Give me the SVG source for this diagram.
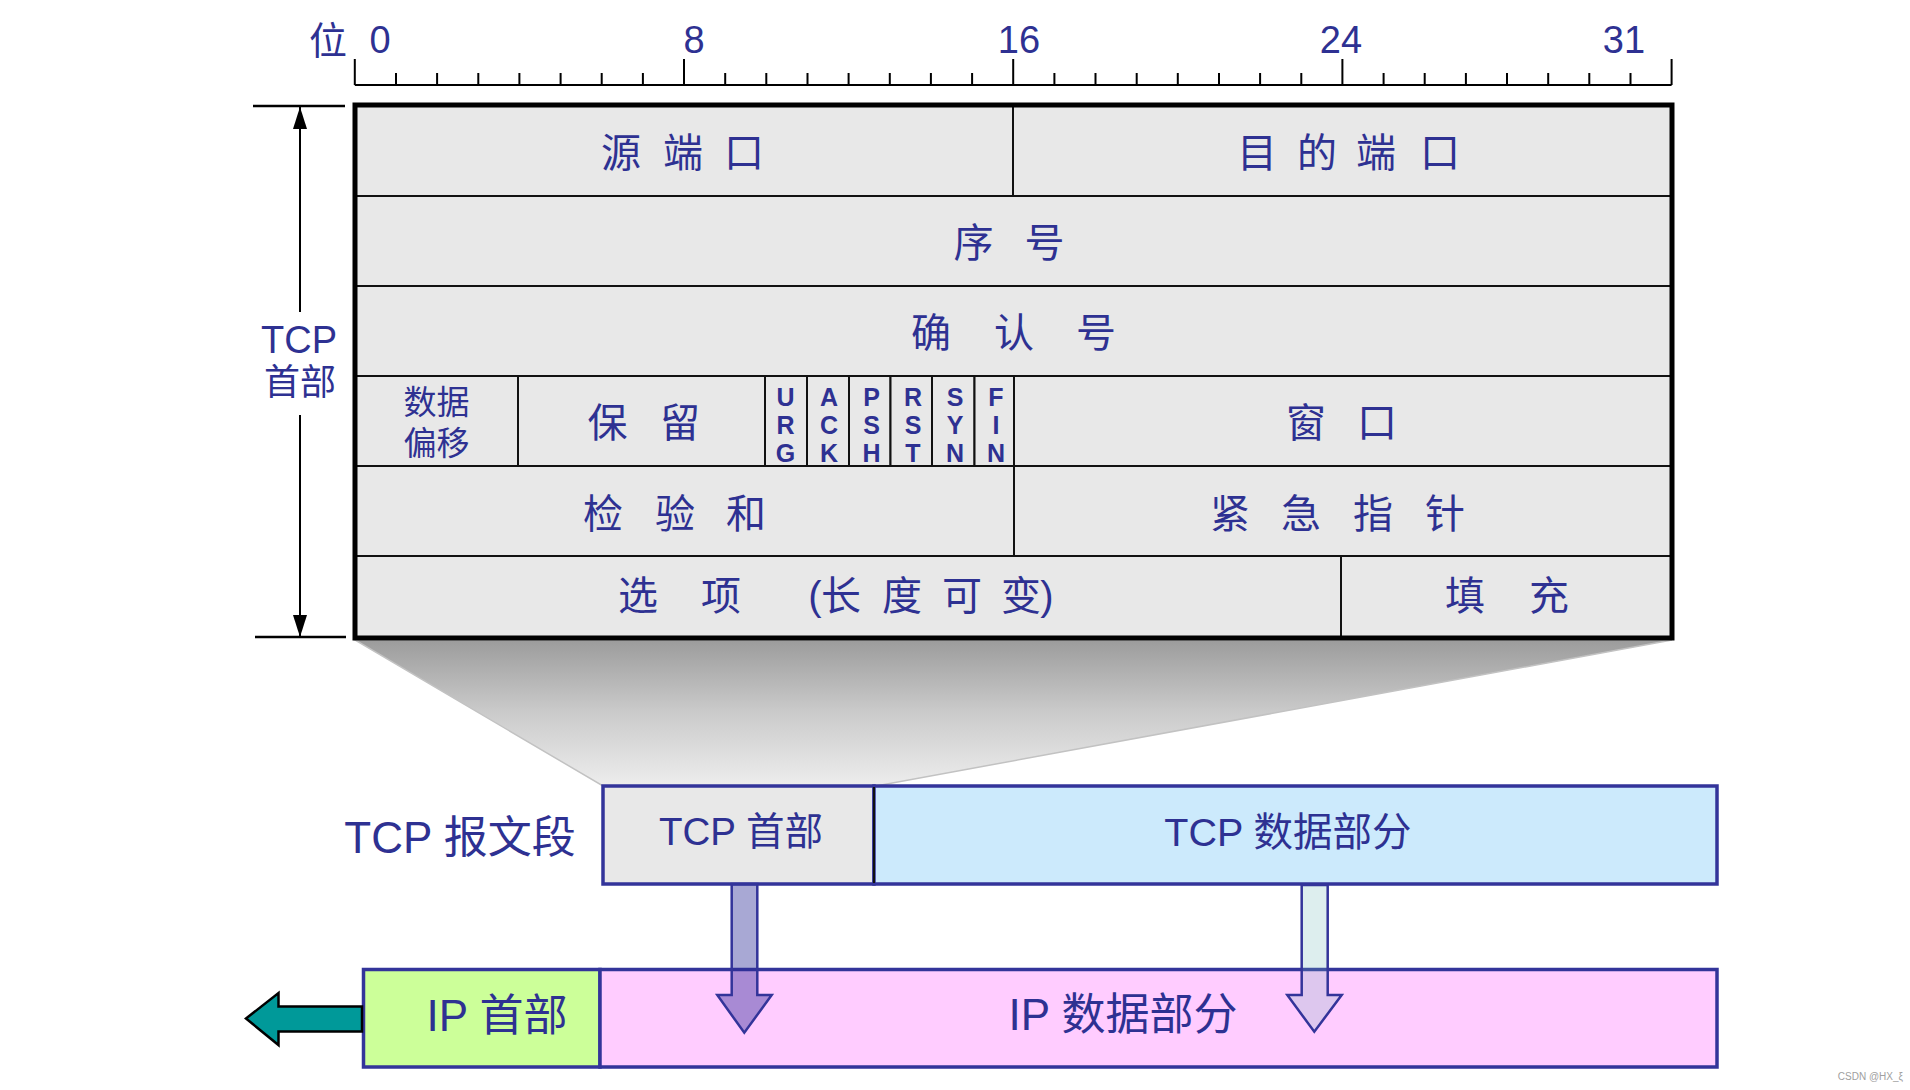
<svg xmlns="http://www.w3.org/2000/svg" width="1910" height="1090" viewBox="0 0 1910 1090">
<style>
.t{font-family:"Liberation Sans","Noto Sans CJK SC",sans-serif;fill:#2E3192;text-anchor:middle}
.f40{font-size:40px}
.flag{font-family:"Liberation Sans",sans-serif;font-weight:bold;font-size:25px;fill:#2E3192;text-anchor:middle}
.cell{fill:#E8E8E8;stroke:#111;stroke-width:2}
.box{stroke:#33349A;stroke-width:3.5}
.tick{stroke:#000;stroke-width:2;fill:none}
</style>
<defs>
<marker id="dimArrow" markerUnits="userSpaceOnUse" markerWidth="22" markerHeight="14" refX="22" refY="7" orient="auto">
<path d="M0,0 L22,7 L0,14 z" fill="#000"/>
</marker>
<linearGradient id="shade" x1="0" y1="0" x2="0" y2="1">
<stop offset="0" stop-color="#9C9C9C"/>
<stop offset="0.5" stop-color="#CBCBCB"/>
<stop offset="1" stop-color="#EDEDED"/>
</linearGradient>
</defs>
<rect width="1910" height="1090" fill="#fff"/>

<g id="ruler">
<text class="t" x="328" y="54" font-size="38">位</text>
<text class="t" font-size="38" x="380" y="53">0</text>
<text class="t" font-size="38" x="694" y="53">8</text>
<text class="t" font-size="38" x="1019" y="53">16</text>
<text class="t" font-size="38" x="1341" y="53">24</text>
<text class="t" font-size="38" x="1624" y="53">31</text>
<path class="tick" stroke-width="2.5" d="M354.8,85H1671.6"/>
<path class="tick" d="M354.8,59V85M684,59V85M1013.2,59V85M1342.4,59V85M1671.6,59V85"/>
<path class="tick" d="M396,73V85M437.1,73V85M478.3,73V85M519.4,73V85M560.6,73V85M601.7,73V85M642.9,73V85M725.2,73V85M766.3,73V85M807.5,73V85M848.6,73V85M889.8,73V85M930.9,73V85M972.1,73V85M1054.4,73V85M1095.5,73V85M1136.7,73V85M1177.8,73V85M1219,73V85M1260.1,73V85M1301.3,73V85M1383.6,73V85M1424.7,73V85M1465.9,73V85M1507,73V85M1548.2,73V85M1589.3,73V85M1630.5,73V85"/>
</g>

<g id="zoom-shadow">
<polygon points="355,640 1672,640 876,786 603,786" fill="url(#shade)" stroke="#C2C2C2" stroke-width="1.5"/>
</g>

<g id="header-length">
<path d="M253,106H345M255,637H346" stroke="#000" stroke-width="2.5"/>
<text class="t" font-size="38" x="299" y="353">TCP</text>
<text class="t" font-size="36" x="300" y="395">首部</text>
</g>

<g id="tcp-header">
<g id="src-port"><rect class="cell" x="355" y="105" width="658" height="91"/><text class="t f40" x="621 683 744" y="167">源端口</text></g>
<g id="dst-port"><rect class="cell" x="1013" y="105" width="659" height="91"/><text class="t f40" x="1257 1317 1376 1440" y="167">目的端口</text></g>
<g id="seq"><rect class="cell" x="355" y="196" width="1317" height="90"/><text class="t f40" x="973.5 1044.5" y="257">序号</text></g>
<g id="ack-num"><rect class="cell" x="355" y="286" width="1317" height="90"/><text class="t f40" x="931 1014 1096" y="347">确认号</text></g>
<g id="data-offset"><rect class="cell" x="355" y="376" width="163" height="90"/><text class="t" font-size="33" x="436.5" y="414">数据<tspan x="436.5" dy="41">偏移</tspan></text></g>
<g id="reserved"><rect class="cell" x="518" y="376" width="247" height="90"/><text class="t f40" x="607.5 680" y="437">保留</text></g>
<g id="urg"><rect class="cell" x="765" y="376" width="42" height="90"/><text class="flag" x="785.5" y="406">U<tspan x="785.5" dy="28">R</tspan><tspan x="785.5" dy="28">G</tspan></text></g>
<g id="ack"><rect class="cell" x="807" y="376" width="42" height="90"/><text class="flag" x="829" y="406">A<tspan x="829" dy="28">C</tspan><tspan x="829" dy="28">K</tspan></text></g>
<g id="psh"><rect class="cell" x="849" y="376" width="41.5" height="90"/><text class="flag" x="871.5" y="406">P<tspan x="871.5" dy="28">S</tspan><tspan x="871.5" dy="28">H</tspan></text></g>
<g id="rst"><rect class="cell" x="890.5" y="376" width="41.5" height="90"/><text class="flag" x="913" y="406">R<tspan x="913" dy="28">S</tspan><tspan x="913" dy="28">T</tspan></text></g>
<g id="syn"><rect class="cell" x="932" y="376" width="42.5" height="90"/><text class="flag" x="955" y="406">S<tspan x="955" dy="28">Y</tspan><tspan x="955" dy="28">N</tspan></text></g>
<g id="fin"><rect class="cell" x="974.5" y="376" width="39.5" height="90"/><text class="flag" x="996" y="406">F<tspan x="996" dy="28">I</tspan><tspan x="996" dy="28">N</tspan></text></g>
<g id="window"><rect class="cell" x="1014" y="376" width="658" height="90"/><text class="t f40" x="1306 1377" y="437">窗口</text></g>
<g id="checksum"><rect class="cell" x="355" y="466" width="659" height="90"/><text class="t f40" x="603 675 746" y="528">检验和</text></g>
<g id="urgent-ptr"><rect class="cell" x="1014" y="466" width="658" height="90"/><text class="t f40" x="1230 1301 1373 1445" y="528">紧急指针</text></g>
<g id="options"><rect class="cell" x="355" y="556" width="986" height="82"/><text class="t f40" x="638 721 815 841 902 962 1021 1047" y="610">选项(长度可变)</text></g>
<g id="padding"><rect class="cell" x="1341" y="556" width="331" height="82"/><text class="t f40" x="1465 1549" y="610">填充</text></g>
<rect x="355" y="105" width="1317" height="533" fill="none" stroke="#000" stroke-width="5"/>
</g>

<g id="tcp-segment-label"><text class="t" font-size="44" x="460" y="853">TCP 报文段</text></g>
<g id="tcp-seg-header"><rect class="box" x="603" y="786" width="271" height="98" fill="#E8E8E8"/><text class="t" font-size="38.5" x="741" y="845">TCP 首部</text></g>
<g id="tcp-seg-data"><rect class="box" x="874" y="786" width="843" height="98" fill="#CCEAFC"/><line x1="874" y1="787" x2="874" y2="883" stroke="#111" stroke-width="2"/><text class="t" font-size="39.5" x="1288" y="846">TCP 数据部分</text></g>
<g id="ip-header"><rect class="box" x="363.5" y="969.5" width="236.5" height="97.5" fill="#CCFF99"/><text class="t" font-size="44" x="497" y="1031">IP 首部</text></g>
<g id="ip-data"><rect class="box" x="600" y="969.5" width="1117" height="97.5" fill="#FFCCFF"/><text class="t" font-size="44" x="1123" y="1030">IP 数据部分</text></g>

<g id="connectors">
<line x1="300" y1="312" x2="300" y2="107" stroke="#000" stroke-width="2" marker-end="url(#dimArrow)"/>
<line x1="300" y1="415" x2="300" y2="637" stroke="#000" stroke-width="2" marker-end="url(#dimArrow)"/>
<polygon points="731.7,884 757.3,884 757.3,995 771.7,995 744.3,1032.7 717.3,995 731.7,995" fill="#2C2C97" fill-opacity="0.41" stroke="#33349A" stroke-width="2.5" stroke-linejoin="miter"/>
<polygon points="1301.7,885 1327.7,885 1327.7,995 1341.7,995 1314.3,1031.7 1287.3,995 1301.7,995" fill="#70B8B8" fill-opacity="0.24" stroke="#33349A" stroke-width="2.5"/>
<polygon points="246,1018.5 278.5,993 278.5,1006.5 362,1006.5 362,1031.5 278.5,1031.5 278.5,1045" fill="#009999" stroke="#000" stroke-width="2.5" stroke-linejoin="miter"/>
</g>

<text x="1903" y="1080" font-family="Liberation Sans,sans-serif" font-size="10" fill="#A0A0A0" text-anchor="end">CSDN @HX_ξ</text>
</svg>
